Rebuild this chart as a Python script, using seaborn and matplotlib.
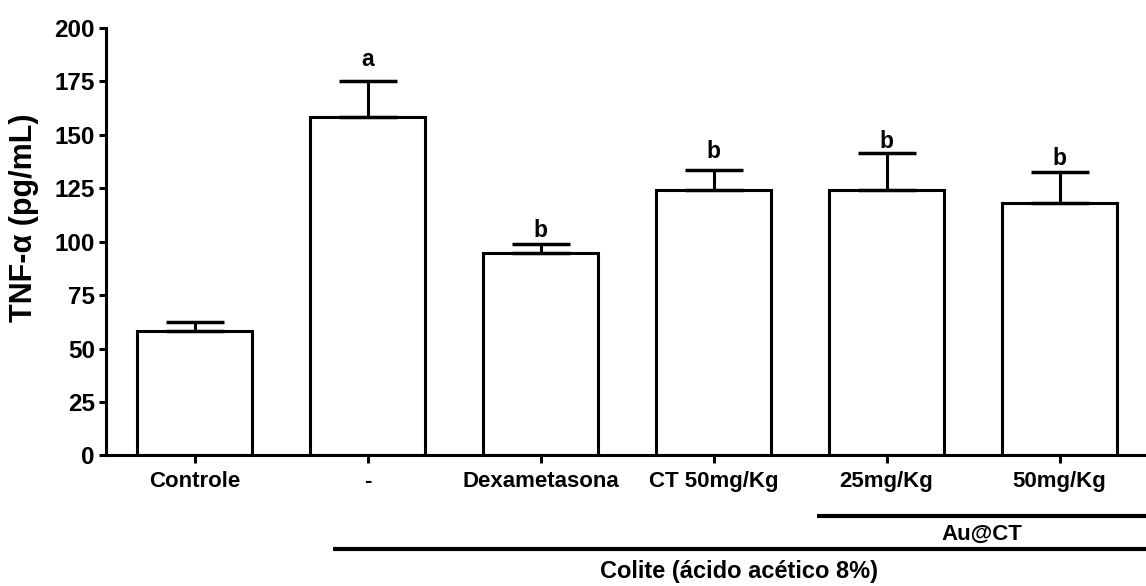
import numpy as np
import pandas as pd
import matplotlib
matplotlib.use("Agg")
import matplotlib.pyplot as plt
import seaborn as sns

# Group labels on the x axis
groups = ["Controle", "-", "Dexametasona", "CT 50mg/Kg", "25mg/Kg", "50mg/Kg"]
# TNF-alpha mean and SEM per group (pg/mL)
tnf_mean = [58.2, 158.4, 94.8, 124.2, 124.2, 118.0]
tnf_sem = [4.1, 16.8, 4.1, 9.2, 17.2, 14.8]
# Statistical significance letters
sig_letters = ["", "a", "b", "b", "b", "b"]
y_ticks = [0, 25, 50, 75, 100, 125, 150, 175, 200]

sns.set_theme(style="ticks")
plt.rcParams["font.family"] = ["Liberation Sans", "DejaVu Sans"]
plt.rcParams["font.weight"] = "bold"
for key in ["text.color", "axes.labelcolor", "xtick.color", "ytick.color",
            "axes.edgecolor"]:
    plt.rcParams[key] = "black"

LW = 2.2

df = pd.DataFrame({"grupo": groups, "tnf": tnf_mean})

fig = plt.figure(figsize=(11.46, 5.86), dpi=100)
ax = fig.add_axes([0.0925, 0.2227, 0.9075, 0.7295])

sns.barplot(data=df, x="grupo", y="tnf", order=groups, color="white",
            saturation=1, edgecolor="black", linewidth=LW, width=0.665,
            errorbar=None, ax=ax)

xpos = np.arange(len(groups))
ax.errorbar(xpos, tnf_mean, yerr=[np.zeros(len(groups)), tnf_sem],
            fmt="none", ecolor="black", elinewidth=LW, capsize=21,
            capthick=2.5, zorder=3)

# significance letters above the error caps
letter_pad = [0, 9, 3, 7, 2, 3]
for i, (m, s, lt) in enumerate(zip(tnf_mean, tnf_sem, sig_letters)):
    if lt:
        ax.annotate(lt, xy=(xpos[i], m + s), xytext=(0, letter_pad[i] + 2),
                    textcoords="offset points", ha="center", va="baseline",
                    fontsize=16.5, fontweight="bold", color="black")

ax.set_xlim(-0.512, 5.50)
ax.set_ylim(0, 200)
ax.set_yticks(y_ticks)
ax.set_xlabel("")
ax.set_ylabel("TNF-α (pg/mL)", fontsize=22, fontweight="bold")
ax.yaxis.set_label_coords(-0.064, 0.555)

sns.despine(ax=ax)
for sp in ["left", "bottom"]:
    ax.spines[sp].set_linewidth(LW)
    ax.spines[sp].set_color("black")
ax.tick_params(axis="y", direction="out", length=5, width=LW, pad=3,
               labelsize=17.5, colors="black")
ax.tick_params(axis="x", direction="out", length=6, width=LW, pad=5,
               labelsize=16, colors="black")
for lab in ax.get_xticklabels() + ax.get_yticklabels():
    lab.set_fontweight("bold")

# group brackets beneath the axis
tr = ax.get_xaxis_transform()
ax.plot([3.60, 5.6], [-0.1425, -0.1425], color="black", lw=3, transform=tr,
        clip_on=False, solid_capstyle="butt")
ax.text(4.55, -0.184, "Au@CT", transform=tr, ha="center", va="center",
        fontsize=16, fontweight="bold")
ax.plot([0.80, 5.6], [-0.2190, -0.2190], color="black", lw=3, transform=tr,
        clip_on=False, solid_capstyle="butt")
ax.text(3.15, -0.272, "Colite (ácido acético 8%)", transform=tr,
        ha="center", va="center", fontsize=17, fontweight="bold")

fig.savefig("out.png", dpi=100)
